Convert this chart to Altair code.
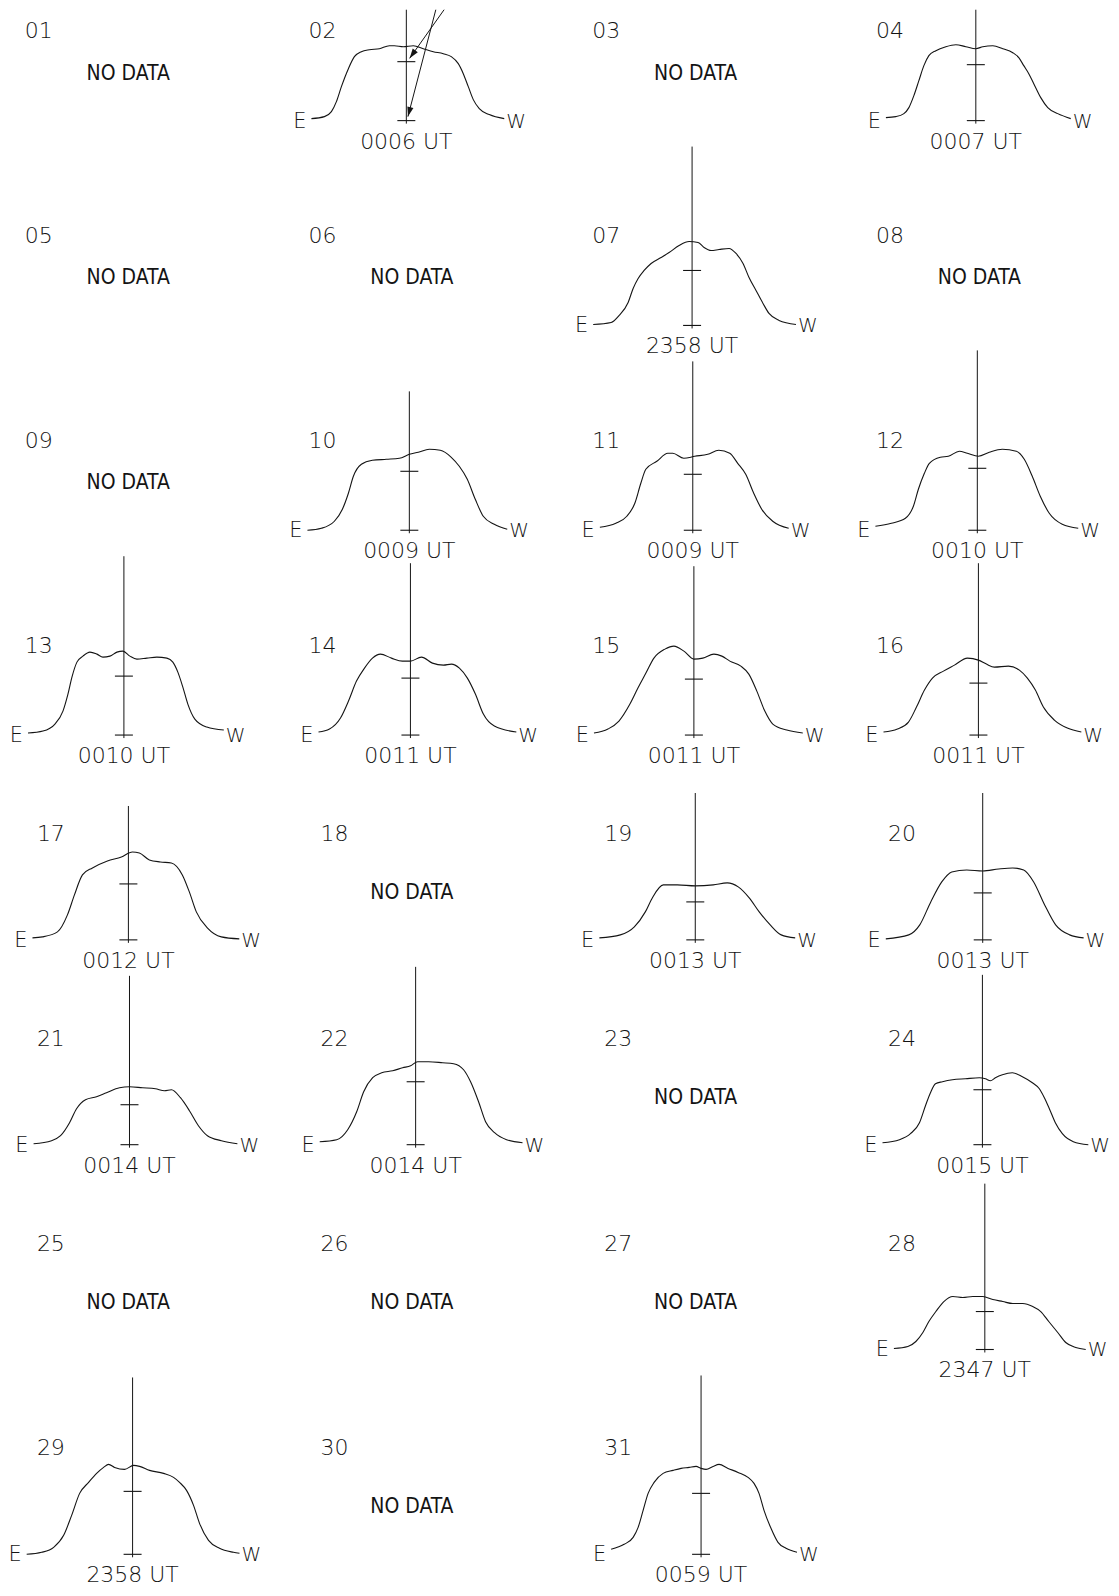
import math
import altair as alt
import pandas as pd

# ---------------- data ----------------
DAYS = [f"{d:02d}" for d in range(1, 32)]

TIMES = {
    "02": "0006 UT", "04": "0007 UT", "07": "2358 UT", "10": "0009 UT",
    "11": "0009 UT", "12": "0010 UT", "13": "0010 UT", "14": "0011 UT",
    "15": "0011 UT", "16": "0011 UT", "17": "0012 UT", "19": "0013 UT",
    "20": "0013 UT", "21": "0014 UT", "22": "0014 UT", "24": "0015 UT",
    "28": "2347 UT", "29": "2358 UT", "31": "0059 UT",
}

# scan position of the reference (centre) line within each panel
LINE_SHIFT = {
    "02": -5.6, "04": -3.6, "07": -3.6, "10": -2.6, "11": -2.9, "12": -2.1,
    "13": -4.3, "14": -1.5, "15": -1.8, "16": -1.0, "17": 0.2, "19": -0.4,
    "20": 3.3, "21": 1.3, "22": 3.7, "24": 3.0, "28": 5.4, "29": 4.4, "31": 5.4,
}

# top of the reference line and height of the calibration tick
LINE_TOP = {
    "02": 111, "04": 111, "07": 179, "10": 139, "11": 169, "12": 180,
    "13": 179, "14": 172, "15": 169, "16": 172, "17": 134, "19": 147,
    "20": 147, "21": 169, "22": 178, "24": 170, "28": 166, "29": 177, "31": 179,
}
MID_TICK = {
    "02": 59, "04": 56, "07": 55, "10": 59, "11": 56, "12": 62, "13": 59,
    "14": 57, "15": 56, "16": 52, "17": 56, "19": 38, "20": 47, "21": 40,
    "22": 63, "24": 55, "28": 38, "29": 63, "31": 61,
}

# E -> W scan profiles: (position relative to centre line, intensity)
P02 = [(-95,2),(-82,4),(-75,9),(-70,19),(-65,34),(-58,52),(-52,64),(-45,69),(-37,71),(-27,72),(-17,75),(-12,75),(-3,74),(7,75),(17,72),(27,69),(37,67),(45,64),(52,57),(57,47),(62,34),(67,21),(73,12),(83,6),(98,2)]
P04 = [(-90,3),(-80,4),(-72,7),(-67,13),(-62,25),(-57,40),(-52,55),(-47,65),(-40,70),(-30,74),(-20,76),(-10,74),(0,72),(7,74),(17,75),(27,72),(37,68),(43,63),(48,55),(53,47),(58,37),(65,23),(72,13),(82,7),(95,2)]
P07 = [(-99,1),(-81,3),(-73,10),(-64,23),(-59,37),(-54,47),(-48,55),(-41,62),(-31,68),(-23,73),(-13,80),(-3,84),(6,83),(12,78),(19,75),(27,76),(37,77),(44,72),(51,62),(57,48),(64,35),(71,22),(77,12),(87,5),(104,1)]
P10 = [(-102,0),(-88,2),(-75,9),(-67,21),(-61,37),(-56,54),(-48,66),(-37,70),(-23,71),(-10,72),(0,76),(9,78),(20,81),(31,80),(42,73),(50,64),(58,51),(66,31),(74,14),(85,6),(98,1)]
P11 = [(-93,3),(-77,7),(-66,14),(-58,27),(-52,47),(-47,61),(-36,69),(-25,77),(-20,77),(-9,72),(2,74),(15,76),(26,80),(37,77),(45,67),(53,56),(61,37),(69,21),(80,9),(96,2)]
P12 = [(-102,4),(-86,7),(-72,12),(-64,24),(-59,41),(-53,57),(-48,67),(-37,73),(-29,74),(-18,79),(-10,77),(1,74),(12,78),(25,81),(39,79),(47,71),(55,54),(63,34),(72,17),(85,6),(101,2)]
P13 = [(-96,2),(-81,4),(-69,11),(-61,24),(-56,41),(-52,58),(-47,73),(-41,79),(-34,83),(-27,81),(-21,78),(-14,79),(-7,83),(-1,84),(6,79),(13,76),(23,77),(33,78),(43,77),(49,73),(54,63),(59,48),(64,31),(71,16),(83,8),(100,5)]
P14 = [(-92,3),(-81,6),(-70,17),(-62,34),(-54,54),(-46,67),(-38,77),(-30,81),(-19,77),(-8,74),(0,74),(11,78),(22,72),(33,70),(41,71),(49,67),(57,57),(65,41),(73,21),(84,9),(106,3)]
P15 = [(-100,2),(-86,6),(-75,14),(-64,31),(-56,47),(-48,62),(-40,77),(-29,86),(-20,89),(-10,84),(0,76),(9,77),(20,81),(28,79),(36,74),(47,69),(55,61),(63,44),(71,24),(79,11),(93,5),(109,2)]
P16 = [(-95,3),(-81,6),(-70,13),(-62,28),(-54,45),(-46,57),(-35,64),(-24,70),(-11,77),(0,75),(8,71),(16,68),(30,69),(41,65),(49,57),(57,45),(65,28),(76,15),(89,7),(103,3)]
P17 = [(-96,2),(-86,3),(-71,8),(-61,25),(-54,45),(-46,65),(-36,72),(-21,79),(-7,83),(4,88),(11,87),(21,80),(32,78),(43,77),(54,65),(61,48),(68,28),(79,12),(93,3),(111,1)]
P19 = [(-96,2),(-75,5),(-61,13),(-50,28),(-43,42),(-32,55),(-18,55),(0,54),(18,55),(32,57),(43,53),(54,42),(64,28),(75,15),(86,5),(100,2)]
P20 = [(-97,1),(-74,5),(-63,15),(-52,38),(-41,58),(-31,68),(-16,70),(0,69),(16,71),(30,72),(41,70),(51,58),(62,35),(73,15),(87,5),(101,2)]
P21 = [(-96,1),(-78,4),(-69,9),(-60,22),(-53,36),(-44,45),(-33,48),(-23,52),(-10,57),(0,58),(13,57),(26,56),(35,54),(42,55),(51,47),(60,34),(69,19),(78,9),(92,4),(108,1)]
P22 = [(-96,3),(-79,5),(-68,15),(-59,33),(-52,53),(-43,67),(-34,72),(-23,74),(-13,77),(-5,79),(2,83),(13,83),(27,82),(38,81),(48,75),(55,63),(63,43),(70,23),(79,12),(91,5),(107,2)]
P24 = [(-100,2),(-83,5),(-72,11),(-63,22),(-57,39),(-52,52),(-47,61),(-40,63),(-30,65),(-17,66),(-3,67),(3,66),(8,64),(13,67),(20,70),(30,72),(40,68),(50,62),(57,56),(62,47),(67,36),(73,22),(80,11),(91,3),(106,0)]
P28 = [(-91,1),(-77,3),(-69,8),(-62,17),(-56,28),(-49,38),(-41,48),(-32,53),(-22,52),(-12,53),(-2,53),(8,50),(18,48),(28,46),(38,46),(48,43),(56,38),(64,28),(73,17),(81,7),(91,2),(101,0)]
P29 = [(-106,0),(-91,2),(-79,7),(-69,19),(-61,39),(-53,61),(-44,72),(-36,81),(-29,87),(-24,90),(-18,87),(-8,85),(1,89),(7,88),(17,84),(31,81),(41,77),(47,72),(54,64),(61,49),(67,31),(76,14),(87,6),(101,2),(107,1)]
P31 = [(-90,5),(-77,10),(-68,17),(-63,27),(-58,44),(-53,61),(-47,72),(-38,81),(-28,84),(-20,86),(-12,87),(-5,88),(0,86),(5,85),(12,88),(18,90),(27,86),(37,82),(47,77),(53,71),(58,61),(63,44),(70,26),(77,12),(85,6),(96,2)]

PROFILES = {
    "02": P02, "04": P04, "07": P07, "10": P10, "11": P11, "12": P12,
    "13": P13, "14": P14, "15": P15, "16": P16, "17": P17, "19": P19,
    "20": P20, "21": P21, "22": P22, "24": P24, "28": P28, "29": P29, "31": P31,
}

# two annotation arrows drawn on panel 02 (start, end relative to the centre line)
ARROWS = {"02": [(37.8, 111, 3.3, 62.3), (29.5, 111, 1.6, 4.0)]}

# ---------------- build one long table ----------------
rows = []
for i, day in enumerate(DAYS):
    late = (i // 4) >= 4
    rows.append(dict(day=day, kind="label", x=-77.4 if late else -89.6,
                     y=106.0 if late else 89.6, text=day))
    if day not in PROFILES:
        rows.append(dict(day=day, kind="nodata", x=0.0, y=47.0, text="NO DATA"))
        continue
    c = LINE_SHIFT[day]
    pts = PROFILES[day]
    for j, (px, pv) in enumerate(pts):
        rows.append(dict(day=day, kind="curve", x=c + px, y=pv, order=j))
    rows.append(dict(day=day, kind="stem", x=c, y=-3.0, y2=LINE_TOP[day]))
    for tv in (0.0, MID_TICK[day]):
        rows.append(dict(day=day, kind="tick", x=c - 9, x2=c + 9, y=tv))
    rows.append(dict(day=day, kind="E", x=c + pts[0][0] - 5, y=-1.0, text="E"))
    rows.append(dict(day=day, kind="W", x=c + pts[-1][0] + 2, y=-1.0, text="W"))
    rows.append(dict(day=day, kind="time", x=c, y=-21.0, text=TIMES[day]))
    for (sx, sy, ex, ey) in ARROWS.get(day, []):
        rows.append(dict(day=day, kind="arrow", x=c + sx, y=sy, x2=c + ex, y2=ey))
        ang = math.degrees(math.atan2(ex - sx, (ey - sy))) % 360
        rows.append(dict(day=day, kind="head", x=c + ex, y=ey, angle=ang))

df = pd.DataFrame(rows)

W, H = 240, 140
XS = alt.Scale(domain=[-120.3, 119.7], nice=False, zero=False)
YS = alt.Scale(domain=[-29, 111], nice=False, zero=False)
INK = "#141414"
FONT = "DejaVu Sans"


def X(f="x"):
    return alt.X(f"{f}:Q", scale=XS, axis=None)


def Y(f="y"):
    return alt.Y(f"{f}:Q", scale=YS, axis=None)


def sel(k):
    return alt.datum.kind == k


base = alt.Chart()

curve = base.mark_line(color=INK, strokeWidth=1.1, interpolate="monotone").encode(
    x=X(), y=Y(), order="order:Q").transform_filter(sel("curve"))
stem = base.mark_rule(color=INK, strokeWidth=1.0).encode(
    x=X(), y=Y(), y2="y2:Q").transform_filter(sel("stem"))
ticks = base.mark_rule(color=INK, strokeWidth=1.1).encode(
    x=X(), x2="x2:Q", y=Y()).transform_filter(sel("tick"))
arrows = base.mark_rule(color=INK, strokeWidth=1.0).encode(
    x=X(), y=Y(), x2="x2:Q", y2="y2:Q").transform_filter(sel("arrow"))
heads = base.mark_point(shape="M0,0L0.32,1L-0.32,1Z", filled=True, color=INK,
                        size=380, opacity=1).encode(
    x=X(), y=Y(), angle=alt.Angle("angle:Q", scale=None)).transform_filter(sel("head"))


def txt(kind, align, size=22, font=FONT, weight=300):
    return base.mark_text(align=align, baseline="middle", font=font, fontSize=size,
                          fontWeight=weight, color=INK).encode(
        x=X(), y=Y(), text="text:N").transform_filter(sel(kind))


def panel(day):
    return alt.layer(
        curve, stem, ticks, arrows, heads,
        txt("label", "center"),
        txt("E", "right", 21),
        txt("W", "left", 20),
        txt("time", "center"),
        txt("nodata", "center", 21, "DejaVu Sans Condensed, DejaVu Sans", 300),
    ).transform_filter(alt.datum.day == day).properties(width=W, height=H)


chart = alt.concat(
    *[panel(d) for d in DAYS],
    columns=4, data=df, spacing={"row": 65, "column": 44}, bounds="flush",
).properties(padding=0).configure_view(stroke=None)

chart.save("out.html", embed_options={"renderer": "svg", "actions": False})
